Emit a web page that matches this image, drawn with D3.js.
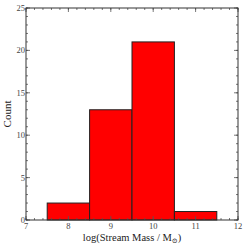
<!DOCTYPE html>
<html>
<head>
<meta charset="utf-8">
<script src="https://cdn.jsdelivr.net/npm/d3@7"></script>
<style>
  body { margin: 0; background: #fff; }
  text { font-family: "Liberation Serif", "DejaVu Serif", serif; }
</style>
</head>
<body>
<svg width="247" height="246"></svg>
<script>
var binStarts = [7.5, 8.5, 9.5, 10.5];
var binEnds = [8.5, 9.5, 10.5, 11.5];
var counts = [2, 13, 21, 1];
var xTicks = [7, 8, 9, 10, 11, 12];
var yTicks = [0, 5, 10, 15, 20, 25];

var margin = { left: 26, right: 9, top: 8, bottom: 26 };
var width = 247, height = 246;

var svg = d3.select('svg');

var x = d3.scaleLinear().domain([7, 12]).range([margin.left, width - margin.right]);
var y = d3.scaleLinear().domain([0, 25]).range([height - margin.bottom, margin.top]);

// bars
var bins = counts.map(function (c, i) { return { x0: binStarts[i], x1: binEnds[i], n: c }; });
svg.append('g').selectAll('rect')
    .data(bins)
  .enter().append('rect')
    .attr('x', function (d) { return x(d.x0); })
    .attr('y', function (d) { return y(d.n); })
    .attr('width', function (d) { return x(d.x1) - x(d.x0); })
    .attr('height', function (d) { return y(0) - y(d.n); })
    .attr('fill', '#ff0000')
    .attr('stroke', '#222')
    .attr('stroke-width', 1);

// minor ticks
var xMinor = d3.range(7, 12.001, 0.2);
var yMinor = d3.range(0, 25.001, 1);
var tickCol = '#555';

function ticks(g, vals, len, isX) {
  vals.forEach(function (v) {
    if (isX) {
      g.append('line').attr('x1', x(v)).attr('x2', x(v))
        .attr('y1', y(0)).attr('y2', y(0) - len).attr('stroke', tickCol);
      g.append('line').attr('x1', x(v)).attr('x2', x(v))
        .attr('y1', y(25)).attr('y2', y(25) + len).attr('stroke', tickCol);
    } else {
      g.append('line').attr('y1', y(v)).attr('y2', y(v))
        .attr('x1', x(7)).attr('x2', x(7) + len).attr('stroke', tickCol);
      g.append('line').attr('y1', y(v)).attr('y2', y(v))
        .attr('x1', x(12)).attr('x2', x(12) - len).attr('stroke', tickCol);
    }
  });
}
var tg = svg.append('g').attr('stroke-width', 0.8);
ticks(tg, xMinor, 2, true);
ticks(tg, yMinor, 2, false);
ticks(tg, xTicks, 4, true);
ticks(tg, yTicks, 4, false);

// frame
svg.append('rect')
    .attr('x', x(7)).attr('y', y(25))
    .attr('width', x(12) - x(7)).attr('height', y(0) - y(25))
    .attr('fill', 'none').attr('stroke', '#333').attr('stroke-width', 1);

// tick labels
svg.append('g').selectAll('text')
    .data(xTicks)
  .enter().append('text')
    .attr('x', function (d) { return x(d); })
    .attr('y', y(0) + 9)
    .attr('text-anchor', 'middle')
    .attr('font-size', 8.5)
    .attr('fill', '#444')
    .text(function (d) { return d; });

svg.append('g').selectAll('text')
    .data(yTicks)
  .enter().append('text')
    .attr('x', x(7) - 1)
    .attr('y', function (d) { return y(d) + 3; })
    .attr('text-anchor', 'end')
    .attr('font-size', 8.5)
    .attr('fill', '#444')
    .text(function (d) { return d; });

// axis labels
var xl = svg.append('text')
    .attr('x', (x(7) + x(12)) / 2)
    .attr('y', 241)
    .attr('text-anchor', 'middle')
    .attr('font-size', 10.5)
    .attr('fill', '#222');
xl.append('tspan').text('log(Stream Mass / M');
xl.append('tspan').attr('font-size', 7).attr('dy', 2).text('\u2299');
xl.append('tspan').attr('dy', -2).text(')');

svg.append('text')
    .attr('transform', 'translate(11,' + ((y(0) + y(25)) / 2) + ') rotate(-90)')
    .attr('text-anchor', 'middle')
    .attr('font-size', 11)
    .attr('fill', '#222')
    .text('Count');
</script>
</body>
</html>
